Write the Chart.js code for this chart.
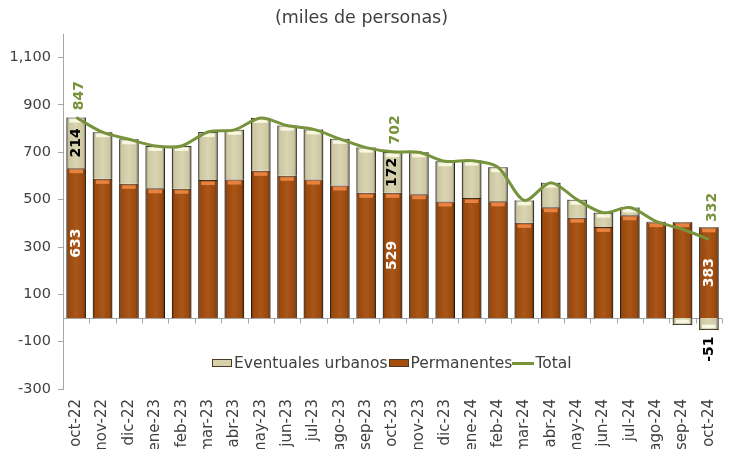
<!DOCTYPE html>
<html>
<head>
<meta charset="utf-8">
<script src="https://cdn.jsdelivr.net/npm/chart.js@4.4.1/dist/chart.umd.min.js"></script>
<style>
  html, body { margin: 0; padding: 0; background: #fff; }
  #wrap { position: relative; width: 729px; height: 449px; }
  #legend { position: absolute; left: 212px; top: 354px; font-family: "DejaVu Sans", sans-serif; font-size: 15.5px; color: #404040; white-space: nowrap; display: flex; align-items: center; }
  .sw { display: inline-block; width: 20px; height: 8px; border: 1px solid #4a3a26; box-sizing: border-box; margin-right: 2px; }
  .ln { display: inline-block; width: 22px; height: 3px; background: #77933C; margin-right: 1px; }
</style>
</head>
<body>
<div id="wrap">
  <canvas id="c" width="729" height="449"></canvas>
  <div id="legend"></div>
</div>
<script>
const categories = ["oct-22","nov-22","dic-22","ene-23","feb-23","mar-23","abr-23","may-23","jun-23","jul-23","ago-23","sep-23","oct-23","nov-23","dic-23","ene-24","feb-24","mar-24","abr-24","may-24","jun-24","jul-24","ago-24","sep-24","oct-24"];
const permanentes = [633,588,567,548,546,583,585,622,601,585,560,529,529,523,492,507,493,402,468,424,385,434,405,405,383];
const eventuales  = [214,197,188,179,181,203,210,223,212,212,197,191,172,177,170,158,144,95,104,76,60,33,3,-30,-51];
const total       = [847,785,755,727,727,786,795,845,813,797,757,720,702,700,662,665,637,497,572,500,445,467,408,375,332];
const yTicks = [-300,-100,100,300,500,700,900,1100];
const labeledIdx = [0,12,24];
const seriesNames = ["Eventuales urbanos","Permanentes","Total"];

const ORANGE = "rgb(164,76,12)";
const BEIGE = "rgb(216,210,172)";
const GREEN = "#77933C";
const FONT = "'DejaVu Sans', sans-serif";

// legend (HTML text)
const lg = document.getElementById('legend');
lg.innerHTML =
  '<span class="sw" style="background:' + BEIGE + '"></span><span>' + seriesNames[0] + '</span>' +
  '<span class="sw" style="background:' + ORANGE + ';margin-left:1px"></span><span>' + seriesNames[1] + '</span>' +
  '<span class="ln"></span><span>' + seriesNames[2] + '</span>';

const zeroLine = {
  id: 'zeroLine',
  beforeDatasetsDraw(chart) {
    const {ctx, chartArea} = chart;
    const y0 = Math.round(chart.scales.y.getPixelForValue(0)) + 0.5;
    const n = categories.length;
    const w = (chartArea.right - chartArea.left) / n;
    ctx.save();
    ctx.strokeStyle = '#A6A6A6';
    ctx.lineWidth = 1;
    ctx.beginPath();
    ctx.moveTo(chartArea.left, y0);
    ctx.lineTo(chartArea.right, y0);
    for (let i = 1; i <= n; i++) {
      const x = Math.round(chartArea.left + i * w) + 0.5;
      ctx.moveTo(x, y0);
      ctx.lineTo(x, y0 + 5);
    }
    ctx.stroke();
    ctx.restore();
  }
};

const bevel = {
  id: 'bevel',
  afterDatasetDraw(chart, args) {
    if (args.index > 1) return;
    const {ctx} = chart;
    const meta = chart.getDatasetMeta(args.index);
    ctx.save();
    meta.data.forEach((el) => {
      const p = el.getProps(['x','y','base','width'], true);
      const l = p.x - p.width / 2, r = p.x + p.width / 2;
      const top = Math.min(p.y, p.base), bot = Math.max(p.y, p.base);
      const h = bot - top;
      if (h < 1) return;
      const g = ctx.createLinearGradient(l, 0, r, 0);
      g.addColorStop(0, 'rgba(0,0,0,0.45)');
      g.addColorStop(0.12, 'rgba(0,0,0,0.05)');
      g.addColorStop(0.5, 'rgba(255,255,255,0.06)');
      g.addColorStop(0.86, 'rgba(0,0,0,0.05)');
      g.addColorStop(1, 'rgba(0,0,0,0.5)');
      ctx.fillStyle = g;
      ctx.fillRect(l, top, p.width, h);
      if (h > 6) {
        const hy = (p.y <= p.base) ? top + 1.5 : bot - 5.5;
        ctx.fillStyle = args.index === 0 ? 'rgba(245,140,70,0.85)' : 'rgba(255,255,235,0.8)';
        ctx.fillRect(l + 3, hy, p.width - 6, 3.5);
      }
    });
    ctx.restore();
  }
};

const labels = {
  id: 'valueLabels',
  afterDatasetsDraw(chart) {
    const {ctx} = chart;
    const mP = chart.getDatasetMeta(0), mE = chart.getDatasetMeta(1), mT = chart.getDatasetMeta(2);
    ctx.save();
    ctx.textAlign = 'center';
    ctx.textBaseline = 'middle';
    const draw = (txt, x, y, color) => {
      ctx.save();
      ctx.translate(x, y);
      ctx.rotate(-Math.PI / 2);
      ctx.fillStyle = color;
      ctx.font = 'bold 14px ' + FONT;
      ctx.fillText(txt, 0, 0);
      ctx.restore();
    };
    labeledIdx.forEach(i => {
      const pe = mP.data[i].getProps(['x','y','base'], true);
      draw(String(permanentes[i]), pe.x, (pe.y + pe.base) / 2, '#ffffff');
      const ee = mE.data[i].getProps(['x','y','base'], true);
      if (eventuales[i] >= 0) {
        draw(String(eventuales[i]), ee.x, (ee.y + ee.base) / 2, '#000000');
      } else {
        draw(String(eventuales[i]), ee.x, ee.y + 19, '#000000');
      }
      const te = mT.data[i].getProps(['x','y'], true);
      draw(String(total[i]), te.x + 3, te.y - (i === 24 ? 32 : 22), GREEN);
    });
    ctx.restore();
  }
};

new Chart(document.getElementById('c'), {
  data: {
    labels: categories,
    datasets: [
      { type: 'bar', label: seriesNames[1], data: permanentes, backgroundColor: ORANGE, borderColor: '#3b2a18', borderWidth: 1, stack: 'bars', order: 2, barPercentage: 0.74, categoryPercentage: 1 },
      { type: 'bar', label: seriesNames[0], data: eventuales, backgroundColor: BEIGE, borderColor: '#4a4436', borderWidth: 1, stack: 'bars', order: 2, barPercentage: 0.74, categoryPercentage: 1 },
      { type: 'line', label: seriesNames[2], data: total, borderColor: GREEN, borderWidth: 3, pointRadius: 0, tension: 0.3, stack: 'total', order: 0 }
    ]
  },
  options: {
    responsive: false,
    animation: false,
    layout: { padding: { top: 2, right: 6, left: 0, bottom: 0 } },
    plugins: {
      legend: { display: false },
      tooltip: { enabled: false },
      title: { display: true, text: '(miles de personas)', color: '#404040', font: { family: FONT, size: 17.5, weight: 'normal' }, padding: { top: 6, bottom: 5 } }
    },
    scales: {
      x: {
        stacked: true,
        grid: { display: false },
        border: { display: false },
        ticks: { color: '#404040', font: { family: FONT, size: 15 }, minRotation: 90, maxRotation: 90, autoSkip: false, padding: 2 },
        afterFit(s) { s.height = 60; }
      },
      y: {
        stacked: true,
        min: -300, max: 1200,
        afterBuildTicks(s) { s.ticks = yTicks.map(v => ({ value: v })); },
        afterFit(s) { s.width = 63; },
        grid: { drawOnChartArea: false, drawTicks: true, tickLength: 5, color: '#A6A6A6' },
        border: { display: true, color: '#A6A6A6' },
        ticks: { color: '#404040', font: { family: FONT, size: 14.5 }, padding: 7, callback: v => v.toLocaleString('en-US') }
      }
    }
  },
  plugins: [zeroLine, bevel, labels]
});
</script>
</body>
</html>
